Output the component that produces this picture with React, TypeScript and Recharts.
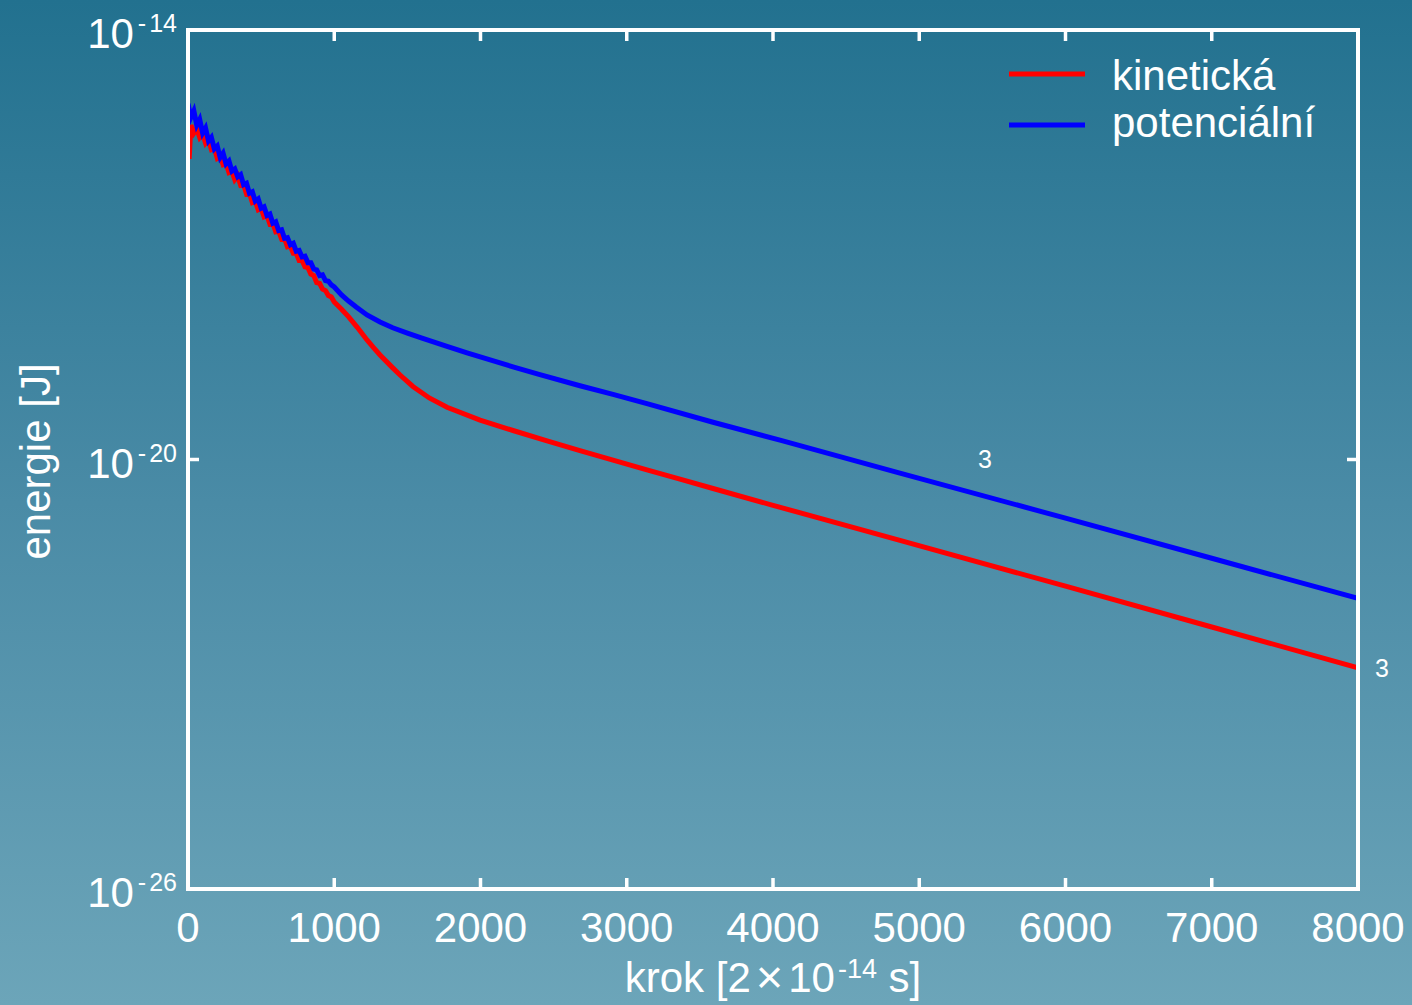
import React from 'react';
import { LineChart, Line, XAxis, YAxis, Legend, ReferenceDot } from 'recharts';

const FONT = "'Liberation Sans', Arial, Helvetica, sans-serif";

// step numbers (x) and log10 of the energy [J] (y)
const kinSteps = [
  0, 8, 20, 40, 60, 80, 100, 120, 140, 160, 180, 200, 220, 240, 260, 280, 300, 320, 340, 360, 380,
  400, 420, 440, 460, 480, 500, 520, 540, 560, 580, 600, 620, 640, 660, 680, 700, 720, 740, 760, 780,
  800, 820, 840, 860, 880, 900, 920, 940, 960, 980, 1000, 1050, 1100, 1156, 1224, 1270, 1313, 1400,
  1450, 1538, 1650, 1771, 1997, 2222, 2455, 2680, 2906, 3138, 3364, 3590, 4000, 4868, 6000, 7000, 8000,
];
const kinExp = [
  -15.32, -15.8, -15.33, -15.44, -15.38, -15.5, -15.45, -15.58, -15.53, -15.67, -15.65, -15.79, -15.76,
  -15.88, -15.86, -15.99, -15.97, -16.09, -16.04, -16.17, -16.16, -16.29, -16.28, -16.41, -16.39, -16.51,
  -16.49, -16.61, -16.59, -16.71, -16.7, -16.82, -16.81, -16.92, -16.91, -17.03, -17.02, -17.12, -17.12,
  -17.22, -17.22, -17.31, -17.32, -17.41, -17.43, -17.53, -17.54, -17.62, -17.64, -17.71, -17.73, -17.8,
  -17.9, -18.01, -18.15, -18.33, -18.44, -18.54, -18.72, -18.82, -18.98, -19.14, -19.27, -19.45, -19.595,
  -19.74, -19.875, -20.01, -20.145, -20.275, -20.405, -20.64, -21.13, -21.77, -22.34, -22.91,
];

const potSteps = [
  0, 20, 40, 60, 80, 100, 120, 140, 160, 180, 200, 220, 240, 260, 280, 300, 320, 340, 360, 380, 400,
  420, 440, 460, 480, 500, 520, 540, 560, 580, 600, 620, 640, 660, 680, 700, 720, 740, 760, 780, 800,
  820, 840, 860, 880, 900, 920, 940, 960, 980, 1000, 1050, 1100, 1150, 1224, 1313, 1400, 1500, 1600,
  1771, 1908, 2100, 2222, 2400, 2680, 2906, 3138, 3590, 4048, 4868, 6000, 7000, 8000,
];
const potExp = [
  -15.03, -15.22, -15.13, -15.33, -15.25, -15.44, -15.37, -15.55, -15.5, -15.66, -15.62, -15.78, -15.72,
  -15.87, -15.83, -15.97, -15.94, -16.05, -16.02, -16.16, -16.14, -16.28, -16.26, -16.39, -16.36, -16.49,
  -16.47, -16.59, -16.57, -16.7, -16.68, -16.8, -16.79, -16.91, -16.9, -17.0, -16.98, -17.09, -17.08,
  -17.17, -17.16, -17.25, -17.25, -17.34, -17.35, -17.43, -17.42, -17.5, -17.51, -17.56, -17.59, -17.7,
  -17.79, -17.87, -17.98, -18.08, -18.16, -18.235, -18.305, -18.42, -18.51, -18.63, -18.705, -18.81,
  -18.97, -19.09, -19.22, -19.48, -19.73, -20.19, -20.82, -21.38, -21.94,
];

const xTicks = [0, 1000, 2000, 3000, 4000, 5000, 6000, 7000, 8000];
const yTickExps = [-26, -20, -14];
const seriesNames = ['kinetická', 'potenciální'];
const seriesColors = ['#ff0000', '#0000ff'];
const yLabel = 'energie [J]';
const xLabelStart = 'krok [2';
const xLabelTimes = '×';
const xLabelTen = '10';
const xLabelSup = '-14';
const xLabelEnd = ' s]';
const strayLabel = '3';
const strayStep = 5450;
const strayExp = -20;

const kinData = kinSteps.map((s, i) => ({ step: s, energy: Math.pow(10, kinExp[i]) }));
const potData = potSteps.map((s, i) => ({ step: s, energy: Math.pow(10, potExp[i]) }));
const yTicks = yTickExps.map((e) => Math.pow(10, e));

const WHITE = '#ffffff';
const AXIS_LINE = { stroke: WHITE, strokeWidth: 4, strokeLinecap: 'square' as const };

const BottomTick = (props: any) => {
  const { x, y, payload } = props;
  return (
    <g>
      <line x1={x} y1={y} x2={x} y2={y - 11} stroke={WHITE} strokeWidth={3.5} />
      <text x={x} y={y + 53} textAnchor="middle" fill={WHITE} fontSize={42} fontFamily={FONT}>
        {payload.value}
      </text>
    </g>
  );
};

const TopTick = (props: any) => {
  const { x, y } = props;
  return <line x1={x} y1={y} x2={x} y2={y + 11} stroke={WHITE} strokeWidth={3.5} />;
};

const LeftTick = (props: any) => {
  const { x, y, payload } = props;
  const e = Math.round(Math.log10(payload.value));
  return (
    <g>
      <line x1={x} y1={y} x2={x + 11} y2={y} stroke={WHITE} strokeWidth={3.5} />
      <text x={x - 11} y={y + 18} textAnchor="end" fill={WHITE} fontSize={42} fontFamily={FONT}>
        10
        <tspan dy={-16} dx={4} fontSize={25}>-</tspan>
        <tspan dx={3} fontSize={25}>{`${Math.abs(e)}`}</tspan>
      </text>
    </g>
  );
};

const RightTick = (props: any) => {
  const { x, y } = props;
  return <line x1={x} y1={y} x2={x - 11} y2={y} stroke={WHITE} strokeWidth={3.5} />;
};

const YLabelContent = (props: any) => {
  const vb = props.viewBox || {};
  const cx = 50;
  const cy = (vb.y ?? 30) + (vb.height ?? 859) / 2 + 2;
  return (
    <text
      x={cx}
      y={cy}
      transform={`rotate(-90, ${cx}, ${cy})`}
      textAnchor="middle"
      fill={WHITE}
      fontSize={42}
      fontFamily={FONT}
    >
      {yLabel}
    </text>
  );
};

const XLabelContent = (props: any) => {
  const vb = props.viewBox || {};
  const cx = (vb.x ?? 188) + (vb.width ?? 1170) / 2;
  const y = 992;
  return (
    <text x={cx} y={y} textAnchor="middle" fill={WHITE} fontSize={42} fontFamily={FONT}>
      {xLabelStart}
      <tspan dx={5} dy={1} fontSize={47}>{xLabelTimes}</tspan>
      <tspan dx={5} dy={-1}>{xLabelTen}</tspan>
      <tspan dy={-14} dx={3} fontSize={27}>{xLabelSup}</tspan>
      <tspan dy={14}>{xLabelEnd}</tspan>
    </text>
  );
};

const LegendContent = () => (
  <svg width={340} height={120} style={{ display: 'block', overflow: 'visible' }}>
    {seriesNames.map((name, i) => (
      <g key={name}>
        <line
          x1={9}
          x2={85}
          y1={44 + i * 51}
          y2={44 + i * 51}
          stroke={seriesColors[i]}
          strokeWidth={5}
        />
        <text x={112} y={60 + i * 47} fill={WHITE} fontSize={42} fontFamily={FONT}>
          {name}
        </text>
      </g>
    ))}
  </svg>
);

export default function App() {
  return (
    <div
      style={{
        position: 'absolute',
        left: 0,
        top: 0,
        width: 1412,
        height: 1005,
        background: 'linear-gradient(to bottom, #22718f 0%, #4a8ba6 50%, #6ca5b9 100%)',
        overflow: 'hidden',
      }}
    >
      <LineChart width={1412} height={1005} margin={{ top: 29, right: 53, bottom: 115, left: 187 }}>
        <XAxis
          xAxisId="bottom"
          dataKey="step"
          type="number"
          domain={[0, 8000]}
          allowDataOverflow
          ticks={xTicks}
          interval={0}
          height={1}
          tickSize={0}
          tickMargin={0}
          tickLine={false}
          axisLine={AXIS_LINE}
          tick={<BottomTick />}
          label={{ content: <XLabelContent /> }}
        />
        <XAxis
          xAxisId="top"
          orientation="top"
          dataKey="step"
          type="number"
          domain={[0, 8000]}
          allowDataOverflow
          ticks={xTicks}
          interval={0}
          height={1}
          tickSize={0}
          tickMargin={0}
          tickLine={false}
          axisLine={AXIS_LINE}
          tick={<TopTick />}
        />
        <YAxis
          yAxisId="left"
          scale="log"
          type="number"
          domain={[1e-26, 1e-14]}
          allowDataOverflow
          ticks={yTicks}
          interval={0}
          width={1}
          tickSize={0}
          tickMargin={0}
          tickLine={false}
          axisLine={AXIS_LINE}
          tick={<LeftTick />}
          label={{ content: <YLabelContent /> }}
        />
        <YAxis
          yAxisId="right"
          orientation="right"
          scale="log"
          type="number"
          domain={[1e-26, 1e-14]}
          allowDataOverflow
          ticks={yTicks}
          interval={0}
          width={1}
          tickSize={0}
          tickMargin={0}
          tickLine={false}
          axisLine={AXIS_LINE}
          tick={<RightTick />}
        />
        <Legend
          layout="vertical"
          align="center"
          verticalAlign="middle"
          content={<LegendContent />}
          wrapperStyle={{ position: 'absolute', left: 1000, top: 30, width: 340, height: 120 }}
        />
        <Line
          xAxisId="bottom"
          yAxisId="left"
          data={kinData}
          dataKey="energy"
          name={seriesNames[0]}
          type="linear"
          stroke={seriesColors[0]}
          strokeWidth={5}
          dot={false}
          isAnimationActive={false}
        />
        <Line
          xAxisId="bottom"
          yAxisId="left"
          data={potData}
          dataKey="energy"
          name={seriesNames[1]}
          type="linear"
          stroke={seriesColors[1]}
          strokeWidth={5}
          dot={false}
          isAnimationActive={false}
        />
        <ReferenceDot
          xAxisId="bottom"
          yAxisId="left"
          x={strayStep}
          y={Math.pow(10, strayExp)}
          r={0}
          fill="none"
          stroke="none"
          label={{ value: strayLabel, position: 'center', fill: WHITE, fontSize: 25, fontFamily: FONT }}
        />
        <ReferenceDot
          xAxisId="bottom"
          yAxisId="left"
          x={kinSteps[kinSteps.length - 1]}
          y={kinData[kinData.length - 1].energy}
          r={0}
          fill="none"
          stroke="none"
          label={{ value: strayLabel, position: 'right', offset: 17, fill: WHITE, fontSize: 25, fontFamily: FONT }}
        />
      </LineChart>
    </div>
  );
}
